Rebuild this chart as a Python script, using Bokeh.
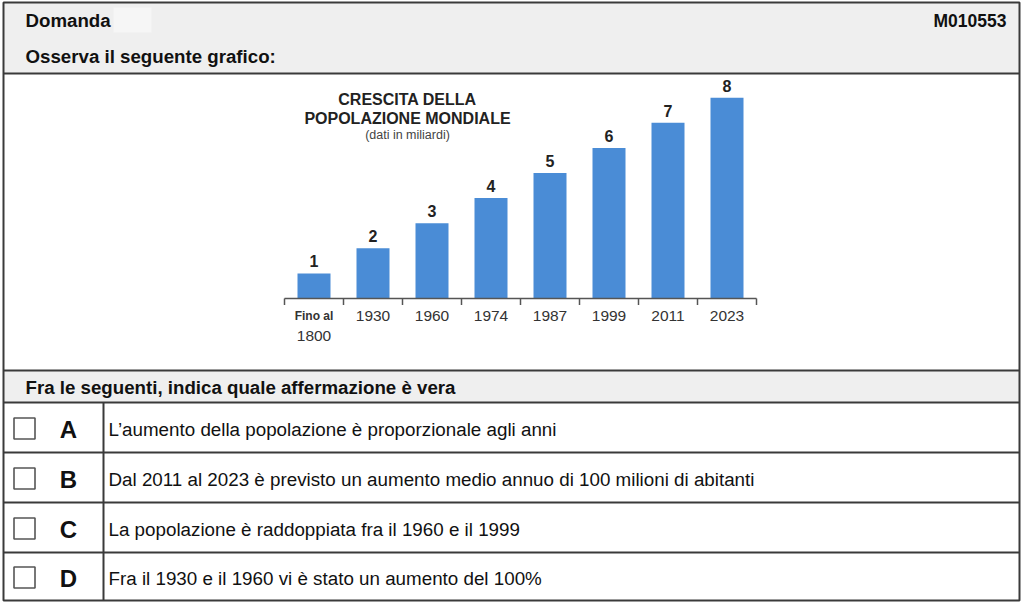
from bokeh.plotting import figure
from bokeh.models import Range1d
from bokeh.embed import file_html
from bokeh.resources import INLINE
from bokeh.core.properties import value

# ---------------- data ----------------
categories = ["Fino al 1800", "1930", "1960", "1974", "1987", "1999", "2011", "2023"]
population = [1, 2, 3, 4, 5, 6, 7, 8]
value_labels = ["1", "2", "3", "4", "5", "6", "7", "8"]
chart_title = ["CRESCITA DELLA", "POPOLAZIONE MONDIALE"]
chart_subtitle = "(dati in miliardi)"
question_label = "Domanda"
question_id = "M010553"
prompt_text = "Osserva il seguente grafico:"
instruction_text = "Fra le seguenti, indica quale affermazione è vera"
option_letters = ["A", "B", "C", "D"]
option_texts = [
    "L\u2019aumento della popolazione è proporzionale agli anni",
    "Dal 2011 al 2023 è previsto un aumento medio annuo di 100 milioni di abitanti",
    "La popolazione è raddoppiata fra il 1960 e il 1999",
    "Fra il 1930 e il 1960 vi è stato un aumento del 100%",
]

# ---------------- layout ----------------
W, H = 1024, 603
FONT = value("Liberation Sans")
LINE = "#3a3a3a"
GRAY = "#efefef"
BAR = "#4a8cd6"

p = figure(width=W, height=H, x_range=Range1d(0, W), y_range=Range1d(H, 0),
           output_backend="svg", toolbar_location=None, min_border=0,
           x_axis_type=None, y_axis_type=None)
p.grid.visible = False
p.outline_line_color = None
p.background_fill_color = "white"
p.border_fill_color = "white"

L, R, T, B = 3, 1019, 2, 600
row_lines = [73, 370, 402, 452, 502, 552]
div_x = 103

# gray bands
p.quad(left=[L, L], right=[R, R], top=[T, 370], bottom=[73, 402],
       fill_color=GRAY, line_color=None)
# blurred question number patch
p.quad(left=[113], right=[151], top=[7], bottom=[32], fill_color="#f6f6f6", line_color=None)

# borders
p.segment(x0=[L] * len(row_lines), x1=[R] * len(row_lines), y0=row_lines, y1=row_lines,
          line_color=LINE, line_width=2)
p.segment(x0=[div_x], x1=[div_x], y0=[402], y1=[B], line_color=LINE, line_width=2)
p.quad(left=[L], right=[R], top=[T], bottom=[B], fill_color=None, line_color=LINE, line_width=2)

# header texts
p.text(x=[25, 25, 25], y=[20, 56, 387], text=[question_label, prompt_text, instruction_text],
       text_font=FONT, text_font_style="bold", text_font_size="18.7px",
       text_baseline="middle", text_align="left", text_color="#111111")
p.text(x=[1006], y=[20], text=[question_id], text_font=FONT, text_font_style="bold",
       text_font_size="17.5px", text_baseline="middle", text_align="right", text_color="#111111")

# options
row_c = [(402 + 452) / 2, (452 + 502) / 2, (502 + 552) / 2, (552 + 600) / 2]
p.rect(x=[24] * 4, y=[c + 1 for c in row_c], width=21, height=21, fill_color="white",
       line_color="#555555", line_width=1.6)
p.text(x=[68] * 4, y=[c + 2 for c in row_c], text=option_letters, text_font=FONT,
       text_font_style="bold", text_font_size="24px", text_baseline="middle",
       text_align="center", text_color="#111111")
p.text(x=[108] * 4, y=[c + 2 for c in row_c], text=option_texts, text_font=FONT,
       text_font_size="18.8px", text_baseline="middle", text_align="left", text_color="#111111")

# ---------------- chart (own scales) ----------------
bar_x0, bar_step, base_y, unit = 313.5, 59.0, 298.0, 25.1
p.extra_x_ranges = {"cx": Range1d((0 - bar_x0) / bar_step, (W - bar_x0) / bar_step)}
p.extra_y_ranges = {"cy": Range1d((base_y - H) / unit, base_y / unit)}
idx = list(range(len(categories)))
n = len(categories)

p.vbar(x=idx, top=population, bottom=0, width=33 / 59, fill_color=BAR, line_color=None,
       x_range_name="cx", y_range_name="cy")
p.text(x=idx, y=population, text=value_labels, y_offset=-12, text_font=FONT,
       text_font_style="bold", text_font_size="16px", text_baseline="middle",
       text_align="center", text_color="#222222", x_range_name="cx", y_range_name="cy")

# axis line and ticks
tick_pos = [i - 0.5 for i in range(n + 1)]
p.segment(x0=[-0.5], x1=[n - 0.5], y0=[0], y1=[0], line_color="#555555", line_width=1.5,
          x_range_name="cx", y_range_name="cy")
p.segment(x0=tick_pos, x1=tick_pos, y0=[0] * len(tick_pos), y1=[-0.26] * len(tick_pos),
          line_color="#555555", line_width=1.5, x_range_name="cx", y_range_name="cy")

# category labels
first_parts = categories[0].rsplit(" ", 1)
p.text(x=idx[1:], y=[0] * (n - 1), text=categories[1:], y_offset=17, text_font=FONT,
       text_font_size="15.5px", text_baseline="middle", text_align="center",
       text_color="#333333", x_range_name="cx", y_range_name="cy")
p.text(x=[idx[0]], y=[0], text=[first_parts[0]], y_offset=17, text_font=FONT,
       text_font_style="bold", text_font_size="12px", text_baseline="middle",
       text_align="center", text_color="#333333", x_range_name="cx", y_range_name="cy")
p.text(x=[idx[0]], y=[0], text=[first_parts[1]], y_offset=37, text_font=FONT,
       text_font_size="15.5px", text_baseline="middle", text_align="center",
       text_color="#333333", x_range_name="cx", y_range_name="cy")

# chart title
title_x = 407
p.text(x=[title_x, title_x], y=[99, 117.5], text=chart_title, text_font=FONT,
       text_font_style="bold", text_font_size="16px", text_baseline="middle",
       text_align="center", text_color="#222222")
p.text(x=[title_x], y=[134], text=[chart_subtitle], text_font=FONT,
       text_font_size="12.5px", text_baseline="middle", text_align="center",
       text_color="#444444")

open("out.html", "w").write(file_html(p, INLINE))
